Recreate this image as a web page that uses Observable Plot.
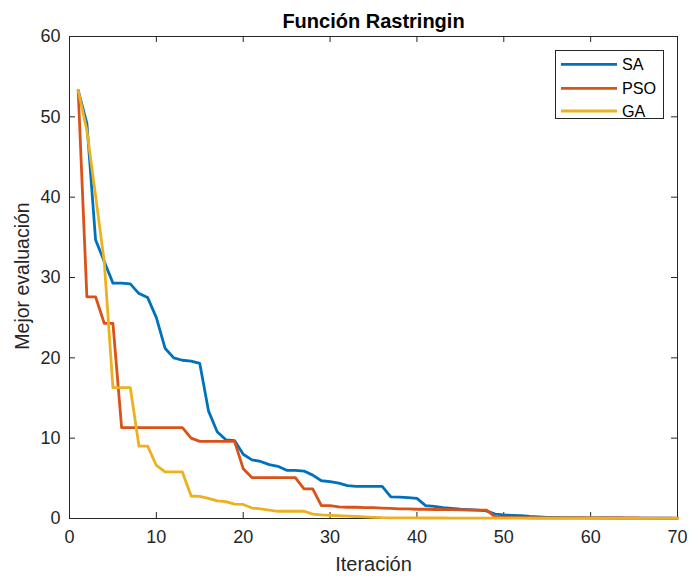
<!DOCTYPE html>
<html>
<head>
<meta charset="utf-8">
<script src="https://cdn.jsdelivr.net/npm/d3@7"></script>
<script src="https://cdn.jsdelivr.net/npm/@observablehq/plot@0.6"></script>
<style>
  body { margin: 0; background: #fff; }
  #chart { width: 690px; height: 576px; }
</style>
</head>
<body>
<div id="chart"></div>
<script>
const iteraciones = [1,2,3,4,5,6,7,8,9,10,11,12,13,14,15,16,17,18,19,20,21,22,23,24,25,26,27,28,29,30,31,32,33,34,35,36,37,38,39,40,41,42,43,44,45,46,47,48,49,50,51,52,53,54,55,56,57,58,59,60,61,62,63,64,65,66,67,68,69,70];
const saValues = [53.3,49.2,34.7,32.0,29.3,29.3,29.2,28.0,27.5,25.0,
  21.2,20.0,19.7,19.6,19.3,13.4,10.8,9.8,9.7,8.0,
  7.3,7.1,6.7,6.5,6.0,6.0,5.9,5.4,4.7,4.6,
  4.4,4.1,4.0,4.0,4.0,4.0,2.7,2.65,2.6,2.5,
  1.6,1.5,1.35,1.25,1.15,1.1,1.05,0.95,0.55,0.45,
  0.4,0.35,0.25,0.2,0.15,0.13,0.12,0.1,0.1,0.09,
  0.08,0.07,0.06,0.05,0.05,0.04,0.04,0.03,0.03,0.02];
const psoValues = [53.3,27.6,27.6,24.3,24.3,11.3,11.3,11.3,11.3,11.3,
  11.3,11.3,11.3,10.0,9.6,9.6,9.6,9.6,9.6,6.2,
  5.1,5.1,5.1,5.1,5.1,5.1,3.7,3.7,1.6,1.6,
  1.45,1.4,1.4,1.35,1.35,1.3,1.25,1.2,1.2,1.15,
  1.15,1.12,1.1,1.1,1.08,1.06,1.05,1.04,0.2,0.15,
  0.12,0.1,0.1,0.09,0.09,0.08,0.08,0.08,0.07,0.07,
  0.07,0.06,0.06,0.06,0.06,0.05,0.05,0.05,0.05,0.05];
const gaValues = [53.3,48.3,40.2,32.0,16.3,16.3,16.3,9.0,9.0,6.6,
  5.8,5.8,5.8,2.8,2.75,2.5,2.2,2.1,1.8,1.75,
  1.3,1.2,1.05,0.9,0.9,0.9,0.9,0.55,0.45,0.4,
  0.35,0.3,0.25,0.2,0.15,0.1,0.08,0.08,0.07,0.07,
  0.06,0.06,0.06,0.05,0.05,0.05,0.05,0.04,0.04,0.04,
  0.04,0.04,0.03,0.03,0.03,0.03,0.03,0.03,0.03,0.03,
  0.02,0.02,0.02,0.02,0.02,0.02,0.02,0.02,0.02,0.02];
const seriesNames = ["SA", "PSO", "GA"];
const seriesColors = ["#0072BD", "#D95319", "#EDB120"];
const xTicks = [0, 10, 20, 30, 40, 50, 60, 70];
const yTicks = [0, 10, 20, 30, 40, 50, 60];
const titleText = "Función Rastringin";
const xLabel = "Iteración";
const yLabel = "Mejor evaluación";

const rows = [];
[saValues, psoValues, gaValues].forEach((vals, k) => {
  vals.forEach((v, i) => rows.push({serie: seriesNames[k], x: iteraciones[i], y: v}));
});

const font = '"Liberation Sans", Arial, Helvetica, sans-serif';
const axisColor = "#262626";
const W = 690, H = 576, mL = 69, mR = 13, mT = 36, mB = 58;
const fh = H - mT - mB, fw = W - mL - mR, tick = 6;

const plot = Plot.plot({
  width: W, height: H,
  marginLeft: mL, marginRight: mR, marginTop: mT, marginBottom: mB,
  style: {fontFamily: font, background: "#fff", color: axisColor, overflow: "visible"},
  x: {domain: [0, 70]},
  y: {domain: [0, 60]},
  color: {domain: seriesNames, range: seriesColors},
  marks: [
    Plot.frame({stroke: axisColor, strokeWidth: 1}),
    Plot.ruleX(xTicks, {x: d => d, insetTop: fh - tick, stroke: axisColor}),
    Plot.ruleX(xTicks, {x: d => d, insetBottom: fh - tick, stroke: axisColor}),
    Plot.ruleY(yTicks, {y: d => d, insetRight: fw - tick, stroke: axisColor}),
    Plot.ruleY(yTicks, {y: d => d, insetLeft: fw - tick, stroke: axisColor}),
    Plot.axisX({ticks: xTicks, tickSize: 0, tickPadding: 12, fontSize: 18, label: null, fill: axisColor}),
    Plot.axisY({ticks: yTicks, tickSize: 0, tickPadding: 9, fontSize: 18, label: null, fill: axisColor}),
    Plot.line(rows, {x: "x", y: "y", z: "serie", stroke: "serie", strokeWidth: 2.8, strokeLinejoin: "round"}),
    Plot.text([titleText], {frameAnchor: "top", dy: -15.4, lineAnchor: "middle", textAnchor: "middle", fontSize: 20, fontWeight: "bold", fill: "#000"}),
    Plot.text([xLabel], {frameAnchor: "bottom", dy: 45.6, lineAnchor: "middle", textAnchor: "middle", fontSize: 20, fill: axisColor}),
    Plot.text([yLabel], {frameAnchor: "left", dx: -47, dy: -1.5, rotate: -90, lineAnchor: "middle", textAnchor: "middle", fontSize: 19.5, fill: axisColor})
  ]
});

// Legend
const svg = d3.select(plot);
const lg = svg.append("g").attr("font-family", font).attr("font-size", 16.2).attr("text-anchor", "start");
lg.append("rect").attr("x", 555.5).attr("y", 50.5).attr("width", 108).attr("height", 68)
  .attr("fill", "#fff").attr("stroke", axisColor).attr("stroke-width", 1);
const rowY = [64.3, 88.3, 111];
seriesNames.forEach((name, i) => {
  lg.append("line").attr("x1", 561).attr("x2", 617).attr("y1", rowY[i]).attr("y2", rowY[i])
    .attr("stroke", seriesColors[i]).attr("stroke-width", 2.8);
  lg.append("text").attr("x", 622).attr("y", rowY[i]).attr("dy", "0.35em")
    .attr("text-anchor", "start").attr("fill", "#000").text(name);
});

document.getElementById("chart").appendChild(plot);
</script>
</body>
</html>
